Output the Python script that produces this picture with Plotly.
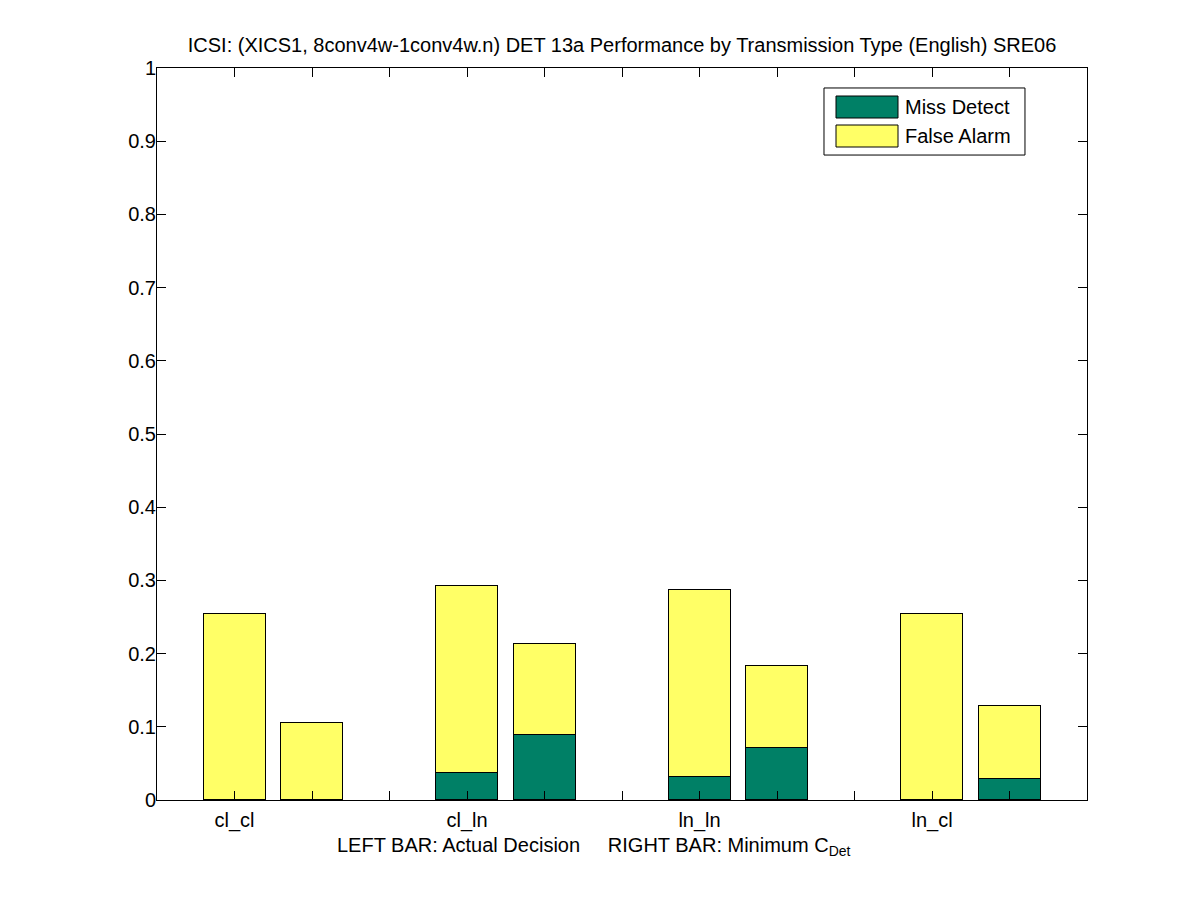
import plotly.graph_objects as go

categories = ["cl_cl", "cl_ln", "ln_ln", "ln_cl"]
# Left bar: Actual Decision, right bar: Minimum C_Det
actual_total = [0.254, 0.292, 0.287, 0.254]
actual_miss = [0.0, 0.037, 0.031, 0.0]
min_total = [0.105, 0.213, 0.183, 0.128]
min_miss = [0.0, 0.089, 0.071, 0.029]
y_ticks = [0, 0.1, 0.2, 0.3, 0.4, 0.5, 0.6, 0.7, 0.8, 0.9, 1]
y_tick_labels = ["0", "0.1", "0.2", "0.3", "0.4", "0.5", "0.6", "0.7", "0.8", "0.9", "1"]

GREEN = "#008066"
YELLOW = "#FFFF66"
FONT = "Liberation Sans, Arial, Helvetica, sans-serif"
FS = 20

n = len(categories)
left_x = [i + 1 / 3 for i in range(n)]
right_x = [i + 2 / 3 for i in range(n)]
xs = left_x + right_x
miss_vals = actual_miss + min_miss
fa = [t - m for t, m in zip(actual_total + min_total, miss_vals)]
miss = [m if m > 0 else None for m in miss_vals]
width = 0.8 / 3

fig = go.Figure()
fig.add_trace(go.Bar(x=xs, y=miss, width=width, name="Miss Detect",
                     marker=dict(color=GREEN, line=dict(color="black", width=1)),
                     showlegend=False))
fig.add_trace(go.Bar(x=xs, y=fa, width=width, name="False Alarm",
                     marker=dict(color=YELLOW, line=dict(color="black", width=1)),
                     showlegend=False))

# tick positions every third of a unit; labels under the left bar of each group
tickvals = [k / 3 for k in range(1, 3 * n)]
ticktext = []
for k in range(1, 3 * n):
    if k % 3 == 1:
        ticktext.append(categories[k // 3])
    else:
        ticktext.append("")

# page is drawn with an 8px body offset
L, T = 149, 60
fig.update_layout(
    barmode="stack",
    width=1201, height=900,
    paper_bgcolor="white", plot_bgcolor="white",
    margin=dict(l=L, r=1201 - (1087 - 8), t=T, b=900 - (800 - 8)),
    font=dict(family=FONT, size=FS, color="black"),
    title=dict(text="ICSI: (XICS1, 8conv4w-1conv4w.n) DET 13a Performance by Transmission Type (English) SRE06",
               x=(L + L + 930) / 2 / 1201, xanchor="center", y=1 - 37 / 900, yanchor="middle",
               font=dict(family=FONT, size=FS, color="black")),
    xaxis=dict(range=[0, n], tickvals=tickvals, ticktext=ticktext, ticks="inside", ticklen=9,
               tickcolor="black", showline=True, linecolor="black", linewidth=1, mirror="ticks",
               showgrid=False, zeroline=False, ticklabelstandoff=2,
               tickfont=dict(family=FONT, size=FS, color="black")),
    yaxis=dict(range=[0, 1], tickvals=y_ticks, ticktext=y_tick_labels, ticks="inside", ticklen=9,
               tickcolor="black", showline=True, linecolor="black", linewidth=1, mirror="ticks",
               showgrid=False, zeroline=False, ticklabelstandoff=-4,
               tickfont=dict(family=FONT, size=FS, color="black")),
    bargap=0,
)

# x label
fig.add_annotation(text="LEFT BAR: Actual Decision     RIGHT BAR: Minimum C<sub>Det</sub>",
                   xref="paper", yref="paper", x=(594 - 157) / 930, y=-(846 - 800) / 732,
                   xanchor="center", yanchor="middle", showarrow=False,
                   font=dict(family=FONT, size=FS, color="black"))

# legend box (MATLAB style)
fig.add_shape(type="rect", xref="paper", yref="paper", x0=0.7172, x1=0.9333, y0=0.8811, y1=0.9727,
              line=dict(color="black", width=1), fillcolor="white")
legend_items = [("Miss Detect", GREEN, 107), ("False Alarm", YELLOW, 136)]
for label, color, cy in legend_items:
    yc = (800 - cy) / 732
    h = 11 / 732
    fig.add_shape(type="rect", xref="paper", yref="paper", x0=(836 - 157) / 930, x1=(898 - 157) / 930,
                  y0=yc - h, y1=yc + h, line=dict(color="black", width=1), fillcolor=color)
    fig.add_annotation(text=label, xref="paper", yref="paper", x=(903 - 157) / 930, y=yc,
                       xanchor="left", yanchor="middle", showarrow=False,
                       font=dict(family=FONT, size=FS, color="black"))

fig.write_html("out.html")
